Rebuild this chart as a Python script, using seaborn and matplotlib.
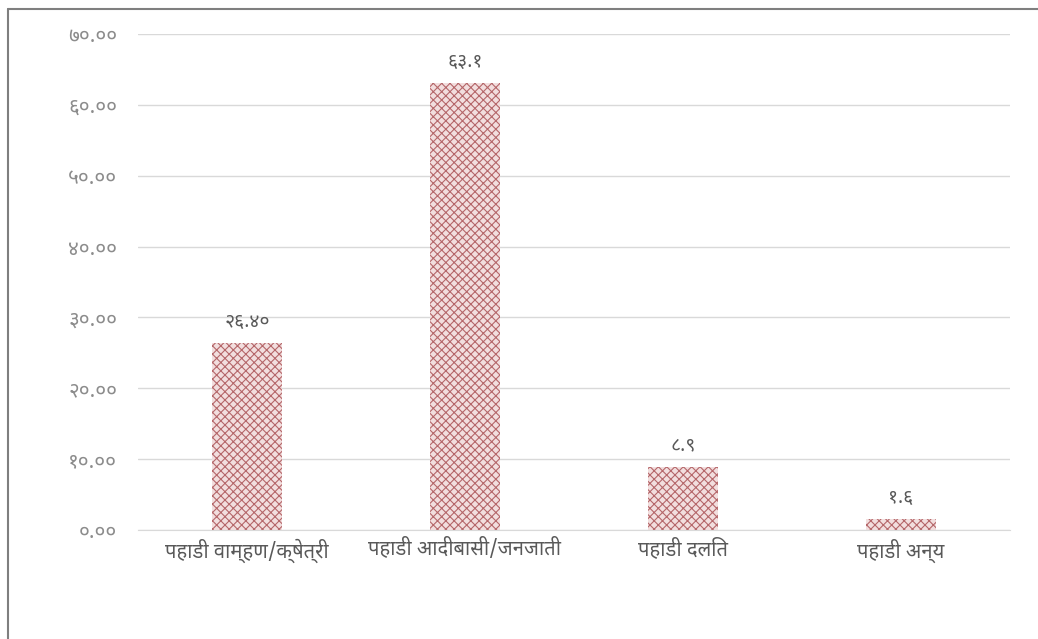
import matplotlib
matplotlib.use('Agg')
from matplotlib import pyplot as plt
from matplotlib import font_manager
import matplotlib.lines as mlines
import pandas as pd
import seaborn as sns

categories = ['पहाडी वाम्हण/क्षेत्री', 'पहाडी आदीबासी/जनजाती', 'पहाडी दलित', 'पहाडी अन्य']
values = [26.40, 63.1, 8.9, 1.6]
value_labels = ['२६.४०', '६३.१', '८.९', '१.६']
tick_values = [0, 10, 20, 30, 40, 50, 60, 70]
tick_labels = ['०.००', '१०.००', '२०.००', '३०.००', '४०.००', '५०.००', '६०.००', '७०.००']

# pick a devanagari font that is installed
installed = {f.name for f in font_manager.fontManager.ttflist}
deva = 'DejaVu Sans'
for name in ['Noto Sans Devanagari', 'Hind', 'Mukta', 'Ek Mukta', 'FreeSans']:
    if name in installed:
        deva = name
        break

sns.set_style('white')
plt.rcParams['font.family'] = [deva, 'DejaVu Sans']
plt.rcParams['hatch.linewidth'] = 0.8
plt.rcParams['hatch.color'] = '#b5676a'

df = pd.DataFrame({'group': categories, 'value': values})

fig = plt.figure(figsize=(10.38, 6.39), dpi=100)
ax = fig.add_axes([138 / 1038, 1 - 530 / 639, 872 / 1038, 496 / 639])

sns.barplot(data=df, x='group', y='value', ax=ax, width=0.32,
            color='#f2dede', linewidth=0, hatch='xxxx')
for p in ax.patches:
    p.set_facecolor('#f2dede')
    p.set_edgecolor('#b5676a')
    p.set_linewidth(0)

for i, (v, lab) in enumerate(zip(values, value_labels)):
    ax.annotate(lab, (i, v), xytext=(0, 8), textcoords='offset points',
                ha='center', va='bottom', fontsize=14, color='#595959',
                fontweight='light')

ax.set_ylim(0, 70)
ax.set_xlim(-0.5, 3.5)
ax.set_yticks(tick_values)
ax.set_yticklabels(tick_labels, fontsize=15, color='#8c8c8c', fontweight='light')
ax.tick_params(axis='y', length=0, pad=15)
ax.tick_params(axis='x', length=0, pad=6, labelsize=14.5, labelcolor='#595959')
ax.set_xlabel('')
ax.set_ylabel('')
ax.yaxis.grid(True, color='#d9d9d9', linewidth=1)
ax.set_axisbelow(True)
for s in ['top', 'right', 'left']:
    ax.spines[s].set_visible(False)
ax.spines['bottom'].set_color('#d9d9d9')

# outer frame (left and top edges only)
fig.add_artist(mlines.Line2D([8 / 1038, 8 / 1038], [0, 1 - 9 / 639], color='#7f7f7f', linewidth=1.5))
fig.add_artist(mlines.Line2D([8 / 1038, 1], [1 - 9 / 639, 1 - 9 / 639], color='#7f7f7f', linewidth=1.5))

fig.savefig('out.png', dpi=100, facecolor='white')
